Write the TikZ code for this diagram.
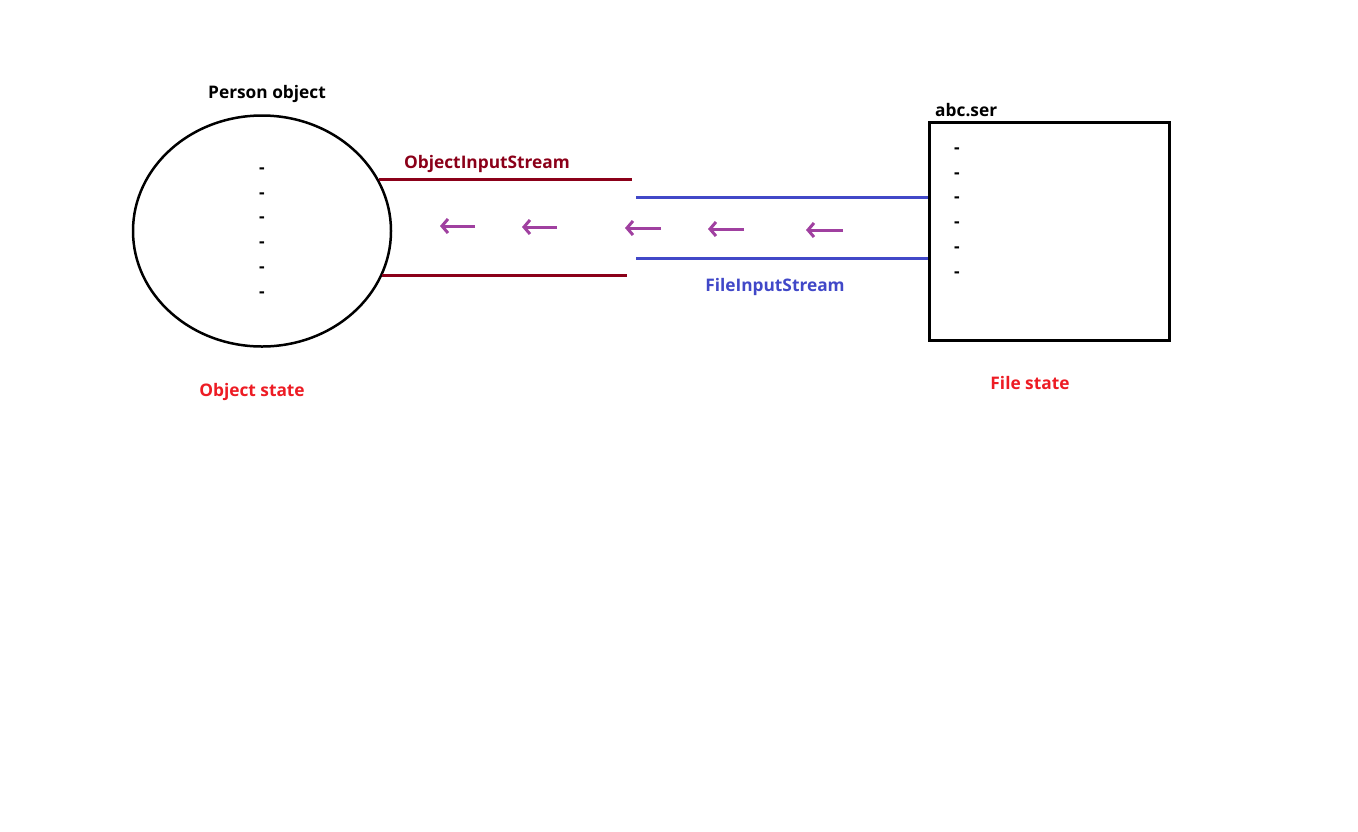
\documentclass[tikz,border=0pt]{standalone}
\usepackage{fontspec}
\setmainfont{Open Sans}
\usetikzlibrary{arrows.meta,shapes.geometric}
\definecolor{darkred}{RGB}{139,0,25}
\definecolor{streamblue}{RGB}{65,72,200}
\definecolor{arrowpurple}{RGB}{160,64,160}
\definecolor{statered}{RGB}{237,28,36}
\tikzset{
  lbl/.style={font=\bfseries\fontsize{17.3}{20}\selectfont, inner sep=0pt, yshift=-2.5pt},
  dashmark/.style={font=\bfseries\fontsize{17.3}{20}\selectfont, inner sep=0pt, yshift=-3pt},
  redline/.style={draw=darkred, line width=3pt},
  blueline/.style={draw=streamblue, line width=3pt},
  flowarrow/.style={draw=arrowpurple, line width=3pt, -{Straight Barb[length=6pt,width=14pt]}},
}
\begin{document}
\begin{tikzpicture}[x=1pt,y=-1pt]
\useasboundingbox (0,0) rectangle (1358,831);
% object ellipse
\node[draw, line width=2.5pt, ellipse, minimum width=258, minimum height=231, inner sep=0pt] (obj) at (262,231) {};
\node[lbl] (objtitle) at (267,92) {Person object};
\node[lbl, text=statered] (objstate) at (252,389) {Object state};
\foreach \y [count=\i] in {168,193,217,242,267,292}
  \node[dashmark] (od\i) at (262,\y) {-};
% file box
\node[draw, line width=3pt, minimum width=240, minimum height=218, inner sep=0pt] (file) at (1049,231) {};
\node[lbl, anchor=west] (filetitle) at (935,108) {abc.ser};
\node[lbl, text=statered] (filestate) at (1030,381) {File state};
\foreach \y [count=\i] in {148,173,197,222,247,272}
  \node[dashmark] (fd\i) at (957,\y) {-};
% streams
\coordinate (ri1) at (379,179);
\coordinate (ro1) at (632,179);
\coordinate (ri2) at (382,275);
\coordinate (ro2) at (627,275);
\draw[redline] (ri1) -- (ro1);
\draw[redline] (ri2) -- (ro2);
\node[lbl, text=darkred] (ois) at (487,161) {ObjectInputStream};
\coordinate (bi1) at (636,197);
\coordinate (bi2) at (636,258);
\draw[blueline] (bi1) -- (file.west |- bi1);
\draw[blueline] (bi2) -- (file.west |- bi2);
\node[lbl, text=streamblue] (fis) at (775,284) {FileInputStream};
% arrows
\foreach \xs/\xe/\y [count=\i] in {475/440/226, 557/522/227, 661/625/228, 744/708/229, 843/806/230}{
  \coordinate (as\i) at (\xs,\y);
  \coordinate (ae\i) at (\xe,\y);
  \draw[flowarrow] (as\i) -- (ae\i);
}
\end{tikzpicture}
\end{document}
